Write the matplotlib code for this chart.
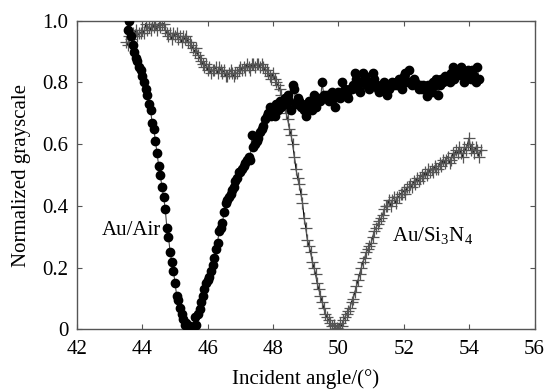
import matplotlib
matplotlib.use("Agg")
import matplotlib.pyplot as plt

plt.rcParams['font.family'] = ['Liberation Serif', 'DejaVu Serif']
plt.rcParams['mathtext.fontset'] = 'custom'
plt.rcParams['mathtext.rm'] = 'Liberation Serif'

# Au/Air (filled circles)
air_angle = [
    43.55, 43.60, 43.65, 43.70, 43.75, 43.80, 43.85, 43.90, 43.95, 44.00,
    44.05, 44.10, 44.15, 44.20, 44.25, 44.30, 44.35, 44.40, 44.45, 44.50,
    44.55, 44.60, 44.65, 44.70, 44.75, 44.80, 44.85, 44.90, 44.95, 45.00,
    45.05, 45.10, 45.15, 45.20, 45.25, 45.30, 45.35, 45.40, 45.45, 45.50,
    45.55, 45.60, 45.65, 45.70, 45.75, 45.80, 45.85, 45.90, 45.95, 46.00,
    46.05, 46.10, 46.15, 46.20, 46.25, 46.30, 46.35, 46.40, 46.45, 46.50,
    46.55, 46.60, 46.65, 46.70, 46.75, 46.80, 46.85, 46.90, 46.95, 47.00,
    47.05, 47.10, 47.15, 47.20, 47.25, 47.30, 47.35, 47.40, 47.45, 47.50,
    47.55, 47.60, 47.65, 47.70, 47.75, 47.80, 47.85, 47.90, 47.95, 48.00,
    48.05, 48.10, 48.15, 48.20, 48.25, 48.30, 48.35, 48.40, 48.45, 48.50,
    48.55, 48.60, 48.65, 48.70, 48.75, 48.80, 48.85, 48.90, 48.95, 49.00,
    49.05, 49.10, 49.15, 49.20, 49.25, 49.30, 49.35, 49.40, 49.45, 49.50,
    49.55, 49.60, 49.65, 49.70, 49.75, 49.80, 49.85, 49.90, 49.95, 50.00,
    50.05, 50.10, 50.15, 50.20, 50.25, 50.30, 50.35, 50.40, 50.45, 50.50,
    50.55, 50.60, 50.65, 50.70, 50.75, 50.80, 50.85, 50.90, 50.95, 51.00,
    51.05, 51.10, 51.15, 51.20, 51.25, 51.30, 51.35, 51.40, 51.45, 51.50,
    51.55, 51.60, 51.65, 51.70, 51.75, 51.80, 51.85, 51.90, 51.95, 52.00,
    52.05, 52.10, 52.15, 52.20, 52.25, 52.30, 52.35, 52.40, 52.45, 52.50,
    52.55, 52.60, 52.65, 52.70, 52.75, 52.80, 52.85, 52.90, 52.95, 53.00,
    53.05, 53.10, 53.15, 53.20, 53.25, 53.30, 53.35, 53.40, 53.45, 53.50,
    53.55, 53.60, 53.65, 53.70, 53.75, 53.80, 53.85, 53.90, 53.95, 54.00,
    54.05, 54.10, 54.15, 54.20, 54.25, 54.30,
]
air_gray = [
    0.97, 1.00, 0.95, 0.92, 0.90, 0.88, 0.87, 0.85, 0.84, 0.82,
    0.80, 0.78, 0.76, 0.73, 0.71, 0.67, 0.65, 0.61, 0.57, 0.53,
    0.50, 0.46, 0.43, 0.39, 0.33, 0.30, 0.25, 0.22, 0.19, 0.15,
    0.11, 0.095, 0.07, 0.05, 0.035, 0.015, 0.02, 0.005, 0.01, 0.00,
    0.005, 0.04, 0.015, 0.05, 0.065, 0.09, 0.11, 0.13, 0.15, 0.16,
    0.17, 0.19, 0.21, 0.23, 0.26, 0.28, 0.32, 0.33, 0.345, 0.38,
    0.41, 0.42, 0.43, 0.44, 0.45, 0.46, 0.48, 0.49, 0.51, 0.51,
    0.52, 0.53, 0.54, 0.55, 0.56, 0.55, 0.63, 0.59, 0.60, 0.61,
    0.62, 0.64, 0.65, 0.66, 0.68, 0.69, 0.70, 0.72, 0.69, 0.71,
    0.69, 0.73, 0.71, 0.74, 0.72, 0.74, 0.75, 0.73, 0.76, 0.74,
    0.71, 0.79, 0.78, 0.73, 0.75, 0.74, 0.72, 0.73, 0.71, 0.69,
    0.72, 0.74, 0.73, 0.71, 0.76, 0.72, 0.74, 0.75, 0.74, 0.80,
    0.76, 0.75, 0.76, 0.74, 0.76, 0.77, 0.75, 0.72, 0.76, 0.77,
    0.75, 0.80, 0.77, 0.78, 0.76, 0.75, 0.78, 0.78, 0.79, 0.83,
    0.81, 0.78, 0.77, 0.80, 0.83, 0.82, 0.79, 0.80, 0.78, 0.79,
    0.83, 0.81, 0.79, 0.78, 0.77, 0.79, 0.78, 0.80, 0.77, 0.76,
    0.78, 0.79, 0.80, 0.79, 0.80, 0.79, 0.81, 0.80, 0.78, 0.82,
    0.83, 0.80, 0.84, 0.80, 0.79, 0.81, 0.80, 0.79, 0.78, 0.79,
    0.78, 0.79, 0.78, 0.755, 0.79, 0.78, 0.77, 0.80, 0.79, 0.81,
    0.76, 0.79, 0.81, 0.80, 0.82, 0.81, 0.82, 0.80, 0.83, 0.85,
    0.81, 0.82, 0.84, 0.83, 0.85, 0.82, 0.80, 0.81, 0.84, 0.83,
    0.81, 0.84, 0.82, 0.80, 0.85, 0.81,
]

# Au/Si3N4 (crosses)
sin_angle = [
    43.50, 43.55, 43.60, 43.65, 43.70, 43.75, 43.80, 43.85, 43.90, 43.95,
    44.00, 44.05, 44.10, 44.15, 44.20, 44.25, 44.30, 44.35, 44.40, 44.45,
    44.50, 44.55, 44.60, 44.65, 44.70, 44.75, 44.80, 44.85, 44.90, 44.95,
    45.00, 45.05, 45.10, 45.15, 45.20, 45.25, 45.30, 45.35, 45.40, 45.45,
    45.50, 45.55, 45.60, 45.65, 45.70, 45.75, 45.80, 45.85, 45.90, 45.95,
    46.00, 46.05, 46.10, 46.15, 46.20, 46.25, 46.30, 46.35, 46.40, 46.45,
    46.50, 46.55, 46.60, 46.65, 46.70, 46.75, 46.80, 46.85, 46.90, 46.95,
    47.00, 47.05, 47.10, 47.15, 47.20, 47.25, 47.30, 47.35, 47.40, 47.45,
    47.50, 47.55, 47.60, 47.65, 47.70, 47.75, 47.80, 47.85, 47.90, 47.95,
    48.00, 48.05, 48.10, 48.15, 48.20, 48.25, 48.30, 48.35, 48.40, 48.45,
    48.50, 48.55, 48.60, 48.65, 48.70, 48.75, 48.80, 48.85, 48.90, 48.95,
    49.00, 49.05, 49.10, 49.15, 49.20, 49.25, 49.30, 49.35, 49.40, 49.45,
    49.50, 49.55, 49.60, 49.65, 49.70, 49.75, 49.80, 49.85, 49.90, 49.95,
    50.00, 50.05, 50.10, 50.15, 50.20, 50.25, 50.30, 50.35, 50.40, 50.45,
    50.50, 50.55, 50.60, 50.65, 50.70, 50.75, 50.80, 50.85, 50.90, 50.95,
    51.00, 51.05, 51.10, 51.15, 51.20, 51.25, 51.30, 51.35, 51.40, 51.45,
    51.50, 51.55, 51.60, 51.65, 51.70, 51.75, 51.80, 51.85, 51.90, 51.95,
    52.00, 52.05, 52.10, 52.15, 52.20, 52.25, 52.30, 52.35, 52.40, 52.45,
    52.50, 52.55, 52.60, 52.65, 52.70, 52.75, 52.80, 52.85, 52.90, 52.95,
    53.00, 53.05, 53.10, 53.15, 53.20, 53.25, 53.30, 53.35, 53.40, 53.45,
    53.50, 53.55, 53.60, 53.65, 53.70, 53.75, 53.80, 53.85, 53.90, 53.95,
    54.00, 54.05, 54.10, 54.15, 54.20, 54.25, 54.30, 54.35,
]
sin_gray = [
    0.93, 0.92, 0.95, 0.94, 0.96, 0.95, 0.97, 0.95, 0.96, 0.96,
    0.97, 0.96, 0.99, 0.97, 0.98, 0.97, 0.99, 0.98, 0.99, 0.97,
    0.99, 0.98, 0.99, 0.99, 0.97, 0.96, 0.95, 0.96, 0.94, 0.96,
    0.95, 0.96, 0.94, 0.95, 0.93, 0.95, 0.94, 0.95, 0.93, 0.93,
    0.92, 0.91, 0.90, 0.91, 0.89, 0.88, 0.87, 0.86, 0.85, 0.86,
    0.84, 0.85, 0.83, 0.84, 0.84, 0.85, 0.83, 0.85, 0.84, 0.83,
    0.84, 0.82, 0.82, 0.83, 0.84, 0.83, 0.82, 0.83, 0.83, 0.84,
    0.85, 0.84, 0.85, 0.84, 0.86, 0.85, 0.84, 0.86, 0.86, 0.85,
    0.86, 0.86, 0.85, 0.86, 0.85, 0.84, 0.84, 0.83, 0.82, 0.81,
    0.83, 0.81, 0.80, 0.79, 0.78, 0.76, 0.74, 0.72, 0.70, 0.68,
    0.65, 0.63, 0.60, 0.56, 0.52, 0.49, 0.47, 0.44, 0.41, 0.36,
    0.33, 0.29, 0.27, 0.25, 0.22, 0.20, 0.18, 0.15, 0.13, 0.11,
    0.09, 0.07, 0.05, 0.04, 0.03, 0.02, 0.01, 0.015, 0.00, 0.005,
    0.00, 0.02, 0.01, 0.03, 0.04, 0.05, 0.06, 0.07, 0.09, 0.10,
    0.12, 0.14, 0.16, 0.18, 0.20, 0.22, 0.23, 0.25, 0.26, 0.27,
    0.28, 0.30, 0.32, 0.33, 0.34, 0.35, 0.36, 0.37, 0.39, 0.40,
    0.40, 0.42, 0.40, 0.42, 0.43, 0.41, 0.43, 0.43, 0.44, 0.44,
    0.45, 0.44, 0.46, 0.46, 0.47, 0.46, 0.48, 0.47, 0.49, 0.48,
    0.49, 0.50, 0.49, 0.51, 0.50, 0.52, 0.51, 0.52, 0.51, 0.53,
    0.52, 0.52, 0.54, 0.53, 0.55, 0.54, 0.55, 0.56, 0.54, 0.55,
    0.57, 0.56, 0.58, 0.57, 0.59, 0.57, 0.56, 0.59, 0.58, 0.60,
    0.62, 0.58, 0.59, 0.57, 0.59, 0.58, 0.56, 0.58,
]

x_ticks = [42, 44, 46, 48, 50, 52, 54, 56]
y_ticks = [0, 0.2, 0.4, 0.6, 0.8, 1.0]
y_tick_labels = ["0", "0.2", "0.4", "0.6", "0.8", "1.0"]

FS = 15

fig = plt.figure(figsize=(5.46, 3.89), dpi=100)
ax = fig.add_axes([0.141, 0.153, 0.838, 0.794])

ax.plot(sin_angle, sin_gray, color='black', lw=0.8, marker='+', ms=8,
        mec='#555555', mew=0.9, zorder=2)
ax.plot(air_angle, air_gray, color='#444444', lw=0.8, marker='o', ms=6,
        mfc='black', mec='black', zorder=3)

ax.set_xlim(42, 56)
ax.set_ylim(0, 1.0)
ax.set_xticks(x_ticks)
ax.set_yticks(y_ticks)
ax.set_yticklabels(y_tick_labels)
ax.tick_params(direction='in', length=3.5, width=0.8, top=True, right=True,
               labelsize=FS, colors='#555555', labelcolor='black')
ax.tick_params(axis='x', pad=7.5)
ax.tick_params(axis='y', pad=6)
for s in ax.spines.values():
    s.set_color('#555555')
    s.set_linewidth(1.0)

ax.set_xlabel('Incident angle/(°)', fontsize=FS, labelpad=7)
ax.set_ylabel('Normalized grayscale', fontsize=FS, labelpad=8.5)

ax.text(42.756, 0.306, 'Au/Air', fontsize=FS, va='baseline', ha='left')
ax.text(51.63, 0.284, 'Au/Si$_3$N$_4$', fontsize=FS, va='baseline', ha='left')

fig.savefig('out.png', dpi=100)
